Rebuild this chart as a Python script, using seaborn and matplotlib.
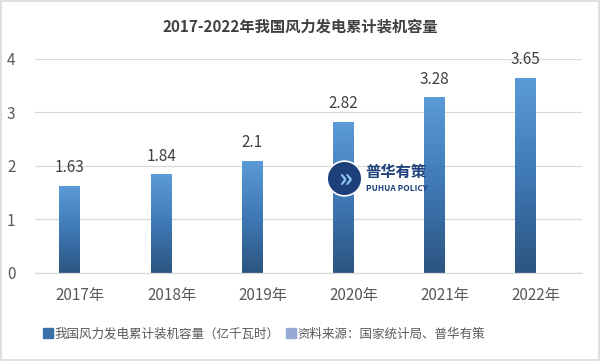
import numpy as np
import pandas as pd
import matplotlib
matplotlib.use("Agg")
import matplotlib.pyplot as plt
from matplotlib.lines import Line2D
from matplotlib.patches import Rectangle
import seaborn as sns

# ------------------------------------------------------------------
# Données
# ------------------------------------------------------------------
years = ["2017年", "2018年", "2019年", "2020年", "2021年", "2022年"]
capacity = [1.63, 1.84, 2.1, 2.82, 3.28, 3.65]
value_labels = ["1.63", "1.84", "2.1", "2.82", "3.28", "3.65"]
series_name = "我国风力发电累计装机容量（亿千瓦时）"
source_name = "资料来源：国家统计局、普华有策"
title = "2017-2022年我国风力发电累计装机容量"
y_ticks = [0, 1, 2, 3, 4]

sns.set_theme(style="white")
plt.rcParams["font.family"] = ["Noto Sans CJK SC", "DejaVu Sans"]

TEXT = "#595959"
GRID = "#d9d9d9"

df = pd.DataFrame({"year": years, "value": capacity, "series": series_name})

fig = plt.figure(figsize=(6.01, 3.61), dpi=100)
ax = fig.add_axes([0.058, 0.2446, 0.91, 0.592])

sns.barplot(
    data=df, x="year", y="value", hue="series",
    hue_order=[series_name, source_name],
    order=years, width=0.46, dodge=True, legend=False,
    color="#4a86c5", ax=ax, zorder=2,
)

# dégradé vertical dans chaque barre (foncé en bas, clair en haut)
grad = np.linspace(0, 1, 256).reshape(-1, 1)
cmap = matplotlib.colors.LinearSegmentedColormap.from_list("bar", ["#2c5580", "#3f79b6", "#5b9bd8"])
bars = [p for p in ax.patches if np.isfinite(p.get_height()) and p.get_height() > 0]
for patch, label in zip(bars, value_labels):
    h = patch.get_height()
    x0 = patch.get_x()
    w = patch.get_width()
    patch.set_facecolor("none")
    patch.set_edgecolor("none")
    im = ax.imshow(grad, extent=[x0, x0 + w, 0, h], origin="lower",
                   cmap=cmap, aspect="auto", zorder=2)
    im.set_clip_path(patch)
    ax.text(x0 + w / 2, h + 0.34, label, ha="center", va="center",
            fontsize=11, color="#404040", zorder=4)

ax.set_xlim(-0.5, len(years) - 0.5)
ax.set_ylim(0, 4)
ax.set_yticks(y_ticks)
ax.set_yticklabels([str(t) for t in y_ticks], color=TEXT, fontsize=11)
ax.set_xticks(range(len(years)))
ax.set_xticklabels(years, color=TEXT, fontsize=11)
ax.tick_params(axis="x", length=0, pad=10)
ax.tick_params(axis="y", length=0, pad=14)
ax.set_xlabel("")
ax.set_ylabel("")
ax.yaxis.grid(True, color=GRID, linewidth=0.9, zorder=0)
ax.set_axisbelow(True)
for side in ["left", "right", "top"]:
    ax.spines[side].set_visible(False)
ax.spines["bottom"].set_color(GRID)
ax.spines["bottom"].set_linewidth(0.9)

# filigrane
ax.plot([0.565], [0.443], marker="o", markersize=25, color="#1d3f7a",
        markeredgecolor="white", markeredgewidth=1.2, transform=ax.transAxes,
        zorder=5, clip_on=False)
ax.text(0.567, 0.438, "»", transform=ax.transAxes, ha="center", va="center",
        fontsize=19, color="#8cc3f0", fontweight="bold", zorder=6)
ax.text(0.605, 0.471, "普华有策", transform=ax.transAxes, ha="left", va="center",
        fontsize=11, fontweight="bold", color="#1d3f7a", zorder=6)
ax.text(0.605, 0.396, "PUHUA POLICY", transform=ax.transAxes, ha="left", va="center",
        fontsize=6, fontweight="bold", color="#1d3f7a", zorder=6)

fig.suptitle(title, x=0.5, y=0.948, fontsize=11, fontweight="bold", color="#404040")

handles = [
    Line2D([], [], marker="s", linestyle="none", markersize=6.5, color="#3a6fa8"),
    Line2D([], [], marker="s", linestyle="none", markersize=6.5, color="#97a9d6"),
]
leg = fig.legend(handles, [series_name, source_name], loc="center", ncol=2,
                 bbox_to_anchor=(0.44, 0.075), frameon=False, fontsize=9,
                 handlelength=0.6, handletextpad=0.2, columnspacing=0.6)
for t in leg.get_texts():
    t.set_color(TEXT)

fig.add_artist(Rectangle((0.002, 0.003), 0.995, 0.993, transform=fig.transFigure,
                         fill=False, edgecolor=GRID, linewidth=1.2))

fig.savefig("out.png", dpi=100)
